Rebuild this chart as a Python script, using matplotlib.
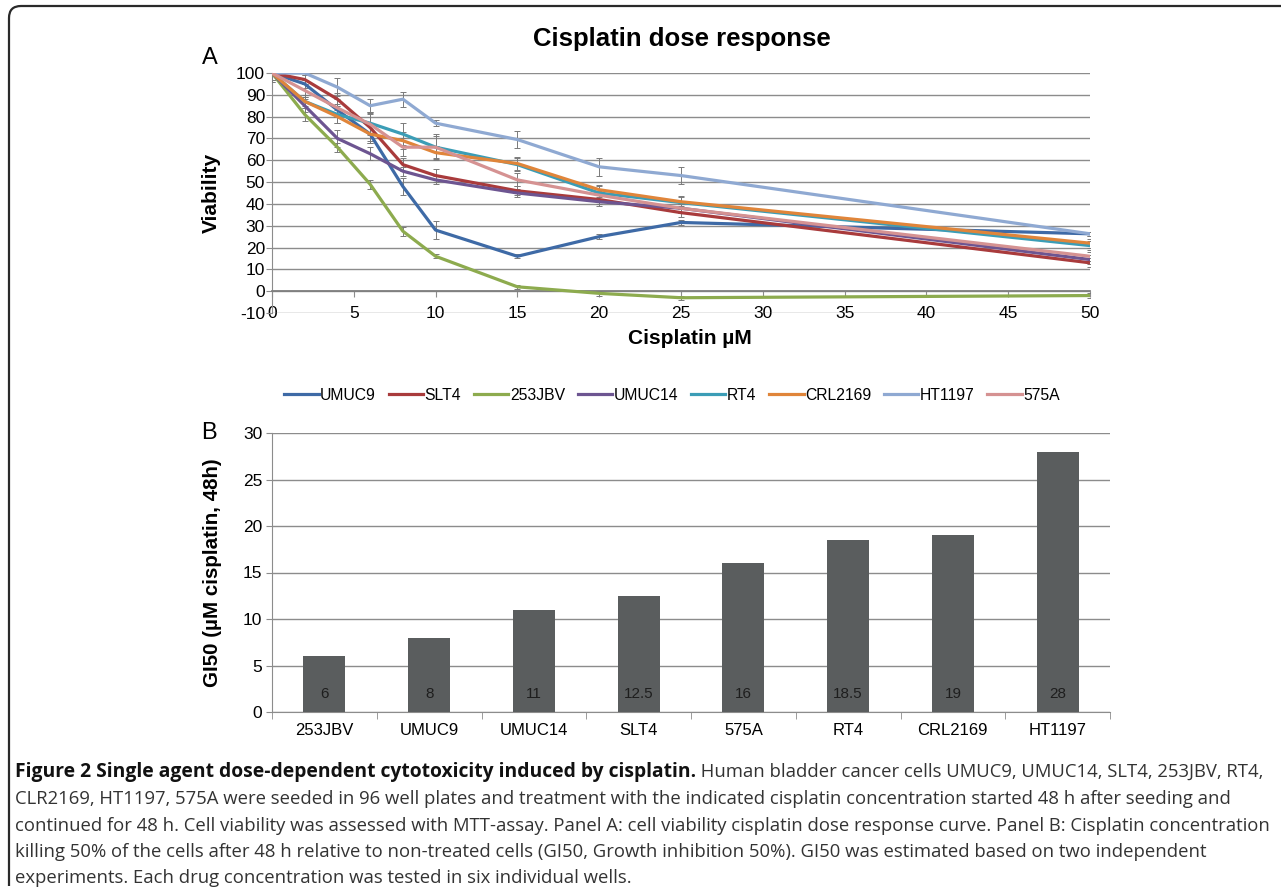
import numpy as np
import matplotlib
matplotlib.use("Agg")
import matplotlib.pyplot as plt
from matplotlib.path import Path
from matplotlib.patches import PathPatch

plt.rcParams['font.family'] = ['Liberation Sans', 'DejaVu Sans']
plt.rcParams['axes.unicode_minus'] = False

# --- panel A data (viability %)
doses = [0, 2, 4, 6, 8, 10, 15, 20, 25, 50]
cell_lines = ['UMUC9', 'SLT4', '253JBV', 'UMUC14', 'RT4', 'CRL2169', 'HT1197', '575A']
umuc9   = [100, 95, 83, 72, 48, 28, 16, 25, 31.5, 26.3]
slt4    = [100, 97, 88, 75, 58, 53, 46, 42, 36, 13]
jbv253  = [100, 81, 66, 49, 27.5, 16, 2, -1, -3, -2]
umuc14  = [100, 85, 70, 63, 55, 51, 45, 41, 38, 14.5]
rt4     = [100, 87, 81, 77, 72, 66, 58, 45, 40.6, 20.9]
crl2169 = [100, 87, 80, 72, 69, 63.5, 58.5, 46.5, 41, 22]
ht1197  = [100, 100, 93.5, 85, 88, 77, 69.5, 57, 53, 26.3]
a575    = [100, 92, 84, 76.5, 66, 66, 51, 44, 38, 16]

err_umuc9   = [4, 2, 3, 4, 4, 4, 1, 1, 1, 1]
err_slt4    = [4, 2, 3, 6, 3, 3, 2, 2, 2, 2]
err_jbv253  = [3, 3, 2, 2, 2, 1, 1, 1, 1, 1]
err_umuc14  = [3, 3, 4, 3, 2, 2, 2, 2, 2, 2]
err_rt4     = [3, 3, 4, 5, 5, 6, 3, 3, 3, 2]
err_crl2169 = [3, 2, 3, 4, 4, 3, 3, 2, 2, 2]
err_ht1197  = [3, 1, 4, 3, 3.5, 1.5, 4, 4, 4, 1]
err_a575    = [3, 3, 4, 5, 4, 5, 3, 2, 2, 2]

series = [umuc9, slt4, jbv253, umuc14, rt4, crl2169, ht1197, a575]
errors = [err_umuc9, err_slt4, err_jbv253, err_umuc14, err_rt4, err_crl2169, err_ht1197, err_a575]
colors = ['#3e6aa6', '#a93b3c', '#8dab4e', '#6d5591', '#3b9db6', '#e0853a', '#8fa9d2', '#d59292']

# --- panel B data (GI50)
gi50_labels = ['253JBV', 'UMUC9', 'UMUC14', 'SLT4', '575A', 'RT4', 'CRL2169', 'HT1197']
gi50_values = [6, 8, 11, 12.5, 16, 18.5, 19, 28]

W, H = 1281, 889
fig = plt.figure(figsize=(W / 100, H / 100), dpi=100)

def fx(px):
    return px / W

def fy(py):
    return 1 - py / H

grid_c = '#8c8c8c'

# ---------- panel A
axA = fig.add_axes([fx(272), fy(313), fx(1090 - 272), (313 - 73) / H])
for name, ys, err, c in zip(cell_lines, series, errors, colors):
    axA.errorbar(doses, ys, yerr=err, fmt='none', ecolor='#7a7a7a',
                 elinewidth=0.7, capsize=2.5, capthick=0.7, zorder=3)
    axA.plot(doses, ys, color=c, lw=2.3, label=name, zorder=4,
             solid_joinstyle='round')
axA.set_xlim(0, 50)
axA.set_ylim(-10, 100)
axA.set_xticks(np.arange(0, 51, 5))
axA.set_yticks(np.arange(-10, 101, 10))
axA.yaxis.grid(True, color=grid_c, lw=1)
axA.set_axisbelow(True)
for s in ['top', 'right']:
    axA.spines[s].set_visible(False)
axA.spines['bottom'].set_position(('data', 0))
axA.spines['bottom'].set_color('#7f7f7f')
axA.spines['bottom'].set_linewidth(1.3)
axA.spines['left'].set_color(grid_c)
axA.tick_params(axis='x', direction='out', length=4, color=grid_c, pad=7, labelsize=12.5)
axA.tick_params(axis='y', direction='out', length=4, color=grid_c, pad=1, labelsize=12.5)
fig.text(fx(682), fy(39), 'Cisplatin dose response', ha='center', va='center',
         fontsize=18.5, fontweight='bold')
fig.text(fx(210), fy(58), 'A', ha='center', va='center', fontsize=17)
fig.text(fx(211), fy(193), 'Viability', ha='center', va='center', rotation=90,
         fontsize=15, fontweight='bold')
fig.text(fx(690), fy(339), 'Cisplatin µM', ha='center', va='center',
         fontsize=15, fontweight='bold')

fig.legend(*axA.get_legend_handles_labels(), loc='center',
           bbox_to_anchor=(fx(672), fy(395)), ncol=8, frameon=False,
           fontsize=11.3, handlelength=2.2, handletextpad=0.1, columnspacing=0.8)

# ---------- panel B
axB = fig.add_axes([fx(272), fy(712), fx(1110 - 272), (712 - 433) / H])
xpos = np.arange(len(gi50_labels))
bars = axB.bar(xpos, gi50_values, width=0.4, color='#5a5d5e', zorder=3)
for b, v in zip(bars, gi50_values):
    axB.text(b.get_x() + b.get_width() / 2, 1.9, f'{v:g}', ha='center',
             va='center', fontsize=11, color='#1e1e1e', zorder=4)
axB.set_xlim(-0.5, len(gi50_labels) - 0.5)
axB.set_ylim(0, 30)
axB.set_yticks(np.arange(0, 31, 5))
axB.set_xticks(xpos)
axB.set_xticklabels(gi50_labels)
axB.set_xticks(np.arange(-0.5, len(gi50_labels)), minor=True)
axB.yaxis.grid(True, color=grid_c, lw=1)
axB.set_axisbelow(True)
for s in ['top', 'right']:
    axB.spines[s].set_visible(False)
axB.spines['bottom'].set_color(grid_c)
axB.spines['left'].set_color(grid_c)
axB.tick_params(axis='x', which='major', length=0, pad=8, labelsize=12)
axB.tick_params(axis='x', which='minor', direction='out', length=5, color=grid_c)
axB.tick_params(axis='y', direction='out', length=4, color=grid_c, pad=3, labelsize=12.5)
fig.text(fx(209), fy(433), 'B', ha='center', va='center', fontsize=17)
fig.text(fx(213), fy(573), 'GI50 (µM cisplatin, 48h)', ha='center', va='center',
         rotation=90, fontsize=14.8, fontweight='bold')

# ---------- caption
cap_font = ['Open Sans', 'DejaVu Sans']
cap_size = 13.3
bold_part = 'Figure 2 Single agent dose-dependent cytotoxicity induced by cisplatin.'
rest_lines = [
    ' Human bladder cancer cells UMUC9, UMUC14, SLT4, 253JBV, RT4,',
    'CLR2169, HT1197, 575A were seeded in 96 well plates and treatment with the indicated cisplatin concentration started 48 h after seeding and',
    'continued for 48 h. Cell viability was assessed with MTT-assay. Panel A: cell viability cisplatin dose response curve. Panel B: Cisplatin concentration',
    'killing 50% of the cells after 48 h relative to non-treated cells (GI50, Growth inhibition 50%). GI50 was estimated based on two independent',
    'experiments. Each drug concentration was tested in six individual wells.',
]
line_y = [772, 799, 826, 852, 878]
t_bold = fig.text(fx(15), fy(line_y[0]), bold_part, ha='left', va='center',
                  fontsize=13.9, fontweight='bold', family=cap_font, color='#111111')
fig.canvas.draw()
bb = t_bold.get_window_extent()
fig.text(bb.x1 / W, fy(line_y[0]), rest_lines[0], ha='left', va='center',
         fontsize=cap_size, family=cap_font, color='#333333')
for txt, y in zip(rest_lines[1:], line_y[1:]):
    fig.text(fx(15), fy(y), txt, ha='left', va='center', fontsize=cap_size,
             family=cap_font, color='#333333')

# ---------- frame (top + left, rounded corner)
verts = [(fx(9), fy(886)), (fx(9), fy(18)), (fx(9), fy(6)), (fx(21), fy(6)), (fx(1281), fy(6))]
codes = [Path.MOVETO, Path.LINETO, Path.CURVE3, Path.CURVE3, Path.LINETO]
fig.add_artist(PathPatch(Path(verts, codes), transform=fig.transFigure,
                         fill=False, lw=1.6, edgecolor='#2a2a2a'))

fig.savefig('out.png', dpi=100)
